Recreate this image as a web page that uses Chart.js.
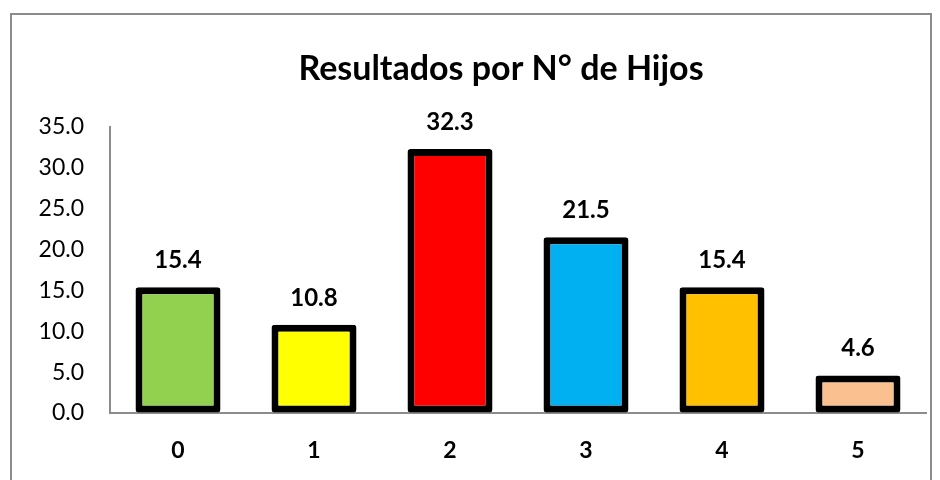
<!DOCTYPE html>
<html>
<head>
<meta charset="utf-8">
<script src="https://cdn.jsdelivr.net/npm/chart.js@4/dist/chart.umd.min.js"></script>
<style>
  html, body { margin: 0; padding: 0; background: #fff; }
  #wrap { width: 940px; height: 480px; position: relative; }
</style>
</head>
<body>
<div id="wrap"><canvas id="c" width="940" height="480"></canvas></div>
<script>
const categories = ['0', '1', '2', '3', '4', '5'];
const values = [15.4, 10.8, 32.3, 21.5, 15.4, 4.6];
const barColors = ['#92D050', '#FFFF00', '#FF0000', '#00B0F0', '#FFC000', '#FAC090'];
const titleText = 'Resultados por N° de Hijos';
const yMin = 0, yMax = 35, yStep = 5;

const FONT = 'Lato, "Open Sans", "Noto Sans", sans-serif';

const decorPlugin = {
  id: 'decor',
  beforeDraw(chart) {
    const ctx = chart.ctx;
    ctx.save();
    ctx.fillStyle = '#ffffff';
    ctx.fillRect(0, 0, chart.width, chart.height);
    ctx.strokeStyle = '#8c8c8c';
    ctx.lineWidth = 2;
    ctx.strokeRect(11, 14, 920, 520);
    ctx.fillStyle = '#000';
    ctx.font = 'bold 34px ' + FONT;
    ctx.textAlign = 'center';
    ctx.textBaseline = 'alphabetic';
    ctx.fillText(titleText, 501, 80);
    ctx.restore();
  },
  afterDatasetsDraw(chart) {
    const ctx = chart.ctx;
    const meta = chart.getDatasetMeta(0);
    ctx.save();
    ctx.fillStyle = '#000';
    ctx.font = 'bold 24px ' + FONT;
    ctx.textAlign = 'center';
    ctx.textBaseline = 'alphabetic';
    meta.data.forEach((bar, i) => {
      ctx.fillText(values[i].toFixed(1), bar.x, bar.y - 19);
    });
    ctx.restore();
  }
};

new Chart(document.getElementById('c'), {
  type: 'bar',
  data: {
    labels: categories,
    datasets: [{
      data: values,
      backgroundColor: barColors,
      borderColor: '#000000',
      borderWidth: 7,
      borderRadius: 3,
      borderSkipped: false,
      barPercentage: 0.625,
      categoryPercentage: 1.0
    }]
  },
  options: {
    responsive: false,
    animation: false,
    events: [],
    layout: { padding: { top: 127, right: 14, bottom: 0, left: 0 } },
    plugins: {
      legend: { display: false },
      title: { display: false },
      tooltip: { enabled: false }
    },
    scales: {
      x: {
        grid: { display: true, drawOnChartArea: false, drawTicks: false },
        border: { display: true, color: '#8c8c8c', width: 2 },
        ticks: {
          color: '#000',
          font: { family: FONT, size: 23, weight: 'bold' },
          padding: 24
        },
        afterFit(scale) { scale.height = 67; }
      },
      y: {
        min: yMin,
        max: yMax,
        grid: { display: true, drawOnChartArea: false, drawTicks: false },
        border: { display: true, color: '#8c8c8c', width: 2 },
        ticks: {
          stepSize: yStep,
          color: '#000',
          font: { family: FONT, size: 23 },
          padding: 26,
          callback: (v) => Number(v).toFixed(1)
        },
        afterFit(scale) { scale.width = 110; }
      }
    }
  },
  plugins: [decorPlugin]
});
</script>
</body>
</html>
